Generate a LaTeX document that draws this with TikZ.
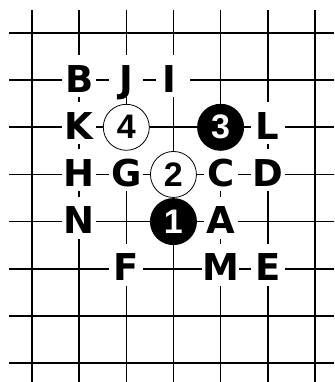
\documentclass[tikz,border=0pt]{standalone}
\usepackage{fontspec}
\newfontfamily\labfont{DejaVu Sans}
\newfontfamily\digfont{Liberation Sans}
\begin{document}
\begin{tikzpicture}[x=1pt,y=-1pt,
  gridline/.style={line width=1.6pt, black},
  lab/.style={fill=white, inner sep=0pt, minimum width=34pt, minimum height=42pt,
    text height=32pt, text depth=0pt,
    font=\labfont\bfseries\fontsize{37}{37}\selectfont},
  wstone/.style={circle, draw=black, line width=0.8pt, fill=white, inner sep=0pt,
    minimum size=46pt, font=\digfont\bfseries\fontsize{34}{34}\selectfont},
  bstone/.style={circle, fill=black, text=white, inner sep=0pt,
    minimum size=47pt, font=\digfont\bfseries\fontsize{34}{34}\selectfont}]
\useasboundingbox (0,0) rectangle (334,382);
\foreach \i in {0,...,6} {
  \foreach \j in {0,...,7} {
    \coordinate (p\i\j) at ({32+47.15*\i},{33+47.15*\j});
  }
}
% grid
\foreach \i in {0,...,6} {
  \draw[gridline] ({32+47.15*\i},10) -- ({32+47.15*\i},382);
}
\foreach \j in {0,...,7} {
  \draw[gridline] (9,{33+47.15*\j}) -- (334,{33+47.15*\j});
}
% labels
\node[lab] (B) at ([yshift=4pt]p11) {B};
\node[lab] (J) at ([yshift=4pt]p21) {J};
\node[lab] (I) at ([yshift=4pt]p31) {I\hspace*{9pt}};
\node[lab] (K) at ([yshift=4pt]p12) {K};
\node[lab] (L) at ([yshift=4pt]p52) {L};
\node[lab] (H) at ([yshift=4pt]p13) {H};
\node[lab] (G) at ([yshift=4pt]p23) {G};
\node[lab] (C) at ([yshift=4pt]p43) {C};
\node[lab] (D) at ([yshift=4pt]p53) {D};
\node[lab] (N) at ([yshift=4pt]p14) {N};
\node[lab] (A) at ([yshift=4pt]p44) {A};
\node[lab] (F) at ([yshift=4pt]p25) {F};
\node[lab] (M) at ([yshift=4pt]p45) {M};
\node[lab] (E) at ([yshift=4pt]p55) {E};
% stones
\node[wstone] (s4) at (p22) {4};
\node[bstone] (s3) at (p42) {3};
\node[wstone] (s2) at (p33) {2};
\node[bstone] (s1) at (p34) {1};
\end{tikzpicture}
\end{document}
